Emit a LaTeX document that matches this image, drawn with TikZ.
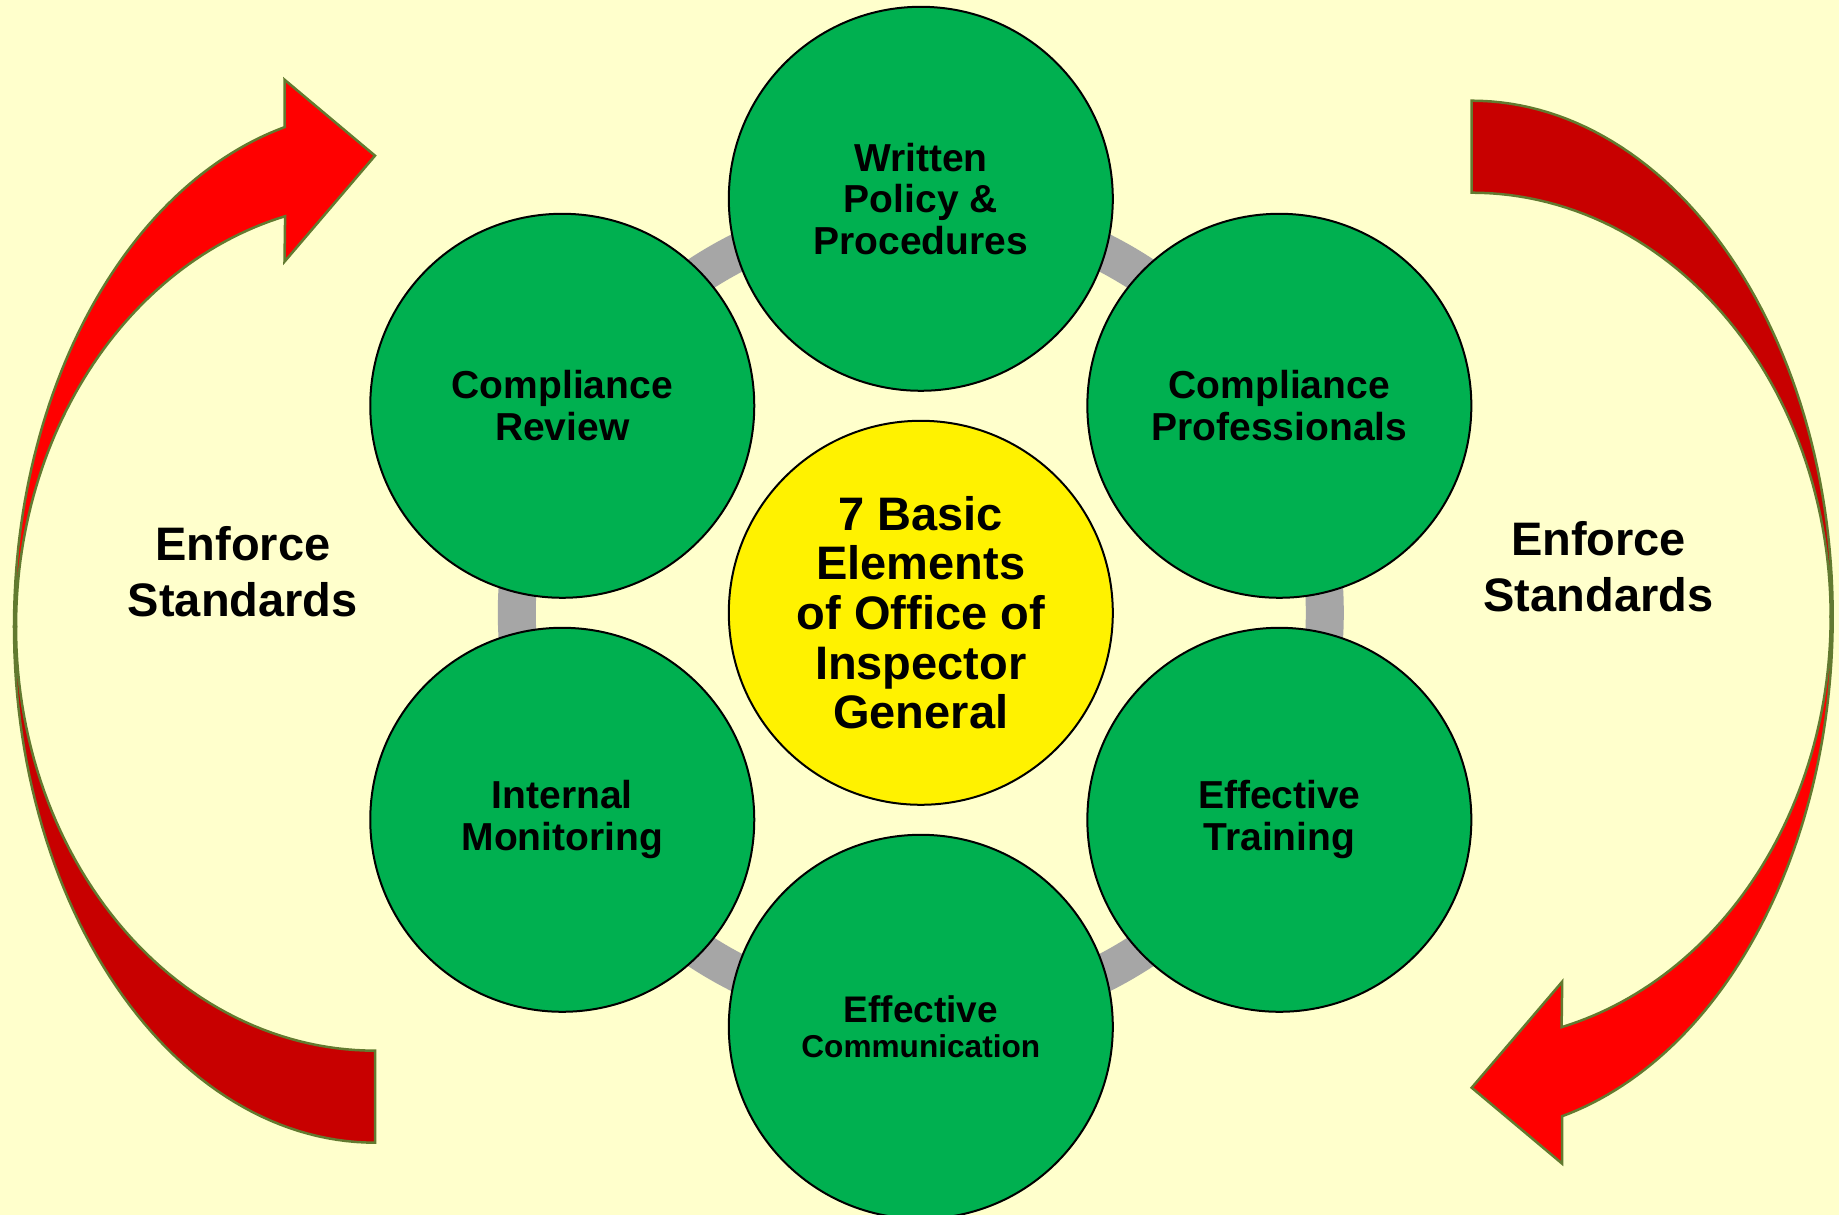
\documentclass[tikz,border=0pt]{standalone}
\usepackage{fontspec}
\setmainfont{Liberation Sans}
\definecolor{bgyellow}{HTML}{FFFFCC}
\definecolor{elemgreen}{HTML}{00B050}
\definecolor{ringgray}{HTML}{A6A6A6}
\definecolor{arrowred}{HTML}{FF0000}
\definecolor{arrowdark}{HTML}{C80000}
\definecolor{arrowedge}{HTML}{627A30}
\begin{document}
\begin{tikzpicture}[x=1pt, y=1pt,
    element/.style={circle, draw=black, line width=2pt, fill=elemgreen, minimum size=384pt,
      inner sep=0pt, align=center, font=\bfseries\fontsize{39}{41.6}\selectfont},
    core/.style={element, fill=yellow, font=\bfseries\fontsize{47}{49.6}\selectfont},
    sidetext/.style={align=center, font=\bfseries\fontsize{47}{56}\selectfont},
    frontband/.style={fill=arrowred, draw=arrowedge, line width=2.5pt},
    backband/.style={fill=arrowdark, draw=arrowedge, line width=2.5pt}]
  \useasboundingbox (0,0) rectangle (1839,1215);
  \fill[bgyellow] (0,0) rectangle (1839,1215);
  \clip (0,0) rectangle (1839,1215);

  % ring behind the elements
  \draw[ringgray, line width=38pt] (920.8,602.2) circle[radius=404];

  \node[core] (core) at (920.8,602.2) {7 Basic\\Elements\\of Office of\\Inspector\\General};
  \node[element] (policy) at ([shift={(90:414)}]core) {Written\\Policy \&\\Procedures};
  \node[element] (professionals) at ([shift={(30:414)}]core) {Compliance\\Professionals};
  \node[element] (training) at ([shift={(-30:414)}]core) {Effective\\Training};
  \node[element, font=\bfseries\fontsize{37}{34.4}\selectfont] (communication) at ([shift={(-90:414)}]core)
    {Effective\\{\fontsize{31.6}{34.4}\selectfont Communication}};
  \node[element] (monitoring) at ([shift={(210:414)}]core) {Internal\\Monitoring};
  \node[element] (review) at ([shift={(150:414)}]core) {Compliance\\Review};

  % curved arrows, the right one turned round
  \foreach \ox/\oy/\turn in {375/588.3/0, 1471.7/598.3/180}{
    \begin{scope}[shift={(\ox,\oy)}, rotate=\turn]
      \filldraw[backband] plot[domain=180:270, samples=60, variable=\a] ({361*cos(\a)}, {516*sin(\a)})
        -- plot[domain=270:180, samples=60, variable=\a] ({359*cos(\a)}, {424*sin(\a)}) -- cycle;
      \filldraw[frontband] plot[domain=180:104.5, samples=60, variable=\a] ({361*cos(\a)}, {516*sin(\a)})
        -- (-90.5,547) -- (0,471) -- (-90.5,365)
        -- plot[domain=104.5:180, samples=60, variable=\a] ({359*cos(\a)}, {424*sin(\a)}) -- cycle;
    \end{scope}
  }

  \node[sidetext] (enforceleft) at (242.8,643.7) {Enforce\\Standards};
  \node[sidetext] (enforceright) at (1598.5,648.5) {Enforce\\Standards};
\end{tikzpicture}
\end{document}
